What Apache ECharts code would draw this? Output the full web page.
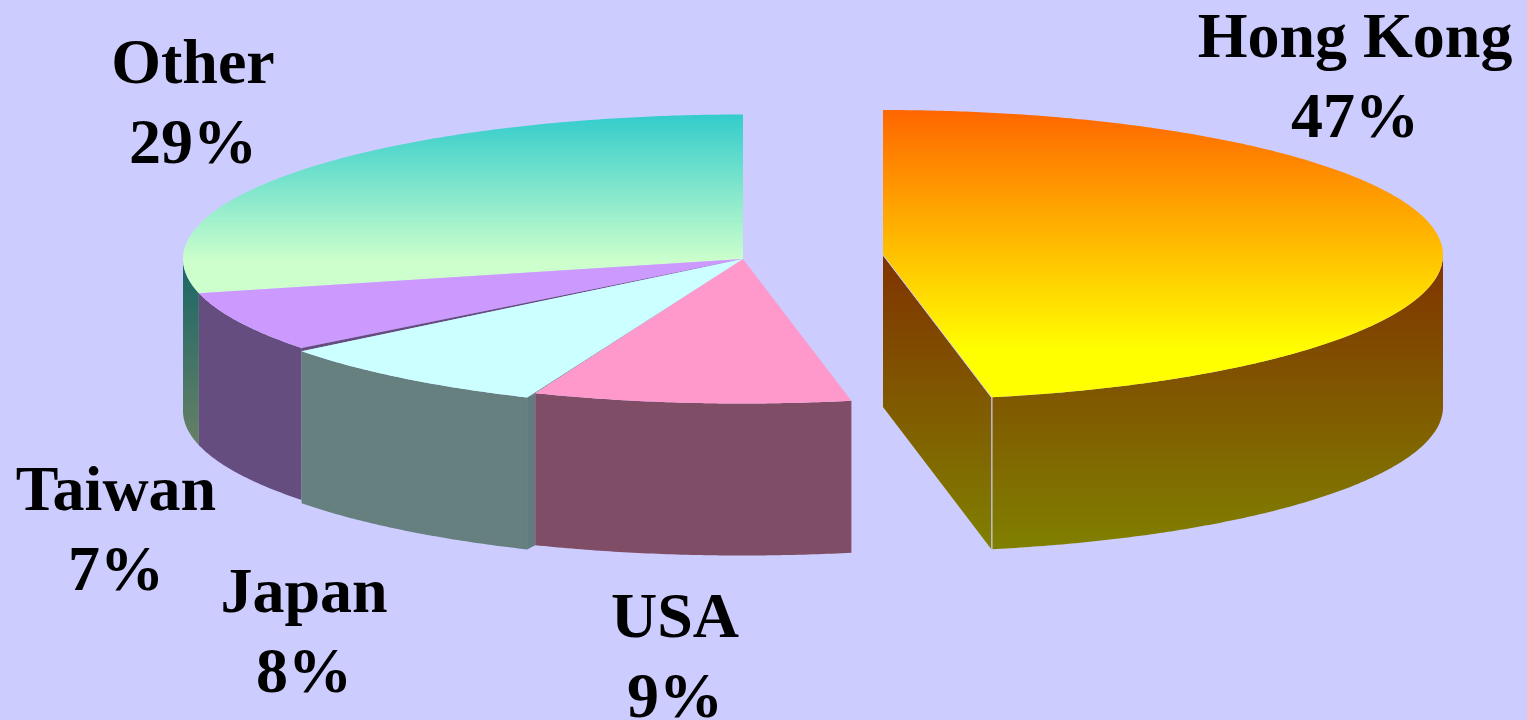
<!DOCTYPE html>
<html>
<head>
<meta charset="utf-8">
<style>html,body{margin:0;padding:0;background:#CCCCFF}#chart{width:1527px;height:720px}</style>
<script src="https://cdn.jsdelivr.net/npm/echarts@6/dist/echarts.min.js"></script>
</head>
<body>
<div id="chart"></div>
<script>
// Data
const categories = ['Hong Kong', 'USA', 'Japan', 'Taiwan', 'Other'];
const shares = [46.9, 9.15, 8.4, 6.75, 28.8];

// Styles (top gradient start/end per slice)
const topFrom = ['#FF6600', '#FF99CC', '#CCFFFF', '#CC99FF', '#33CCCC'];
const topTo   = ['#FFFF00', '#FF99CC', '#CCFFFF', '#CC99FF', '#CCFFCC'];
const topEnd  = [0.84, 1, 1, 1, 0.82];
const wallFrom = ['#803300', '#804D66', '#668080', '#664D80', '#1A6666'];
const wallTo   = ['#808000', '#804D66', '#668080', '#664D80', '#668066'];

// Layout
const BG = '#CCCCFF';
const RX = 560, RY = 144.5, DEPTH = 152;
const pieCentre = [743, 259];
const explode = [[140, -4], [0, 0], [0, 0], [0, 0], [0, 0]];
const rimDrop = [0.5, 0, 5.5, 0, 0];
const startTrim = [0, 0, 0.9, 0, 0];
const labelCentre = [[1355, 80], [675, 660], [304, 635], [116, 533], [193, 106]];

const total = shares.reduce((a, b) => a + b, 0);
const startAngle = [];
shares.reduce((acc, v, i) => { startAngle[i] = acc; return acc + v / total * 360; }, 0);

function rim(cx, cy, deg, drop) {
  const r = deg * Math.PI / 180;
  return [cx + RX * Math.sin(r), cy - (RY + (drop || 0)) * Math.cos(r) ];
}
function arc(cx, cy, a0, a1, drop) {
  const pts = [];
  const n = Math.max(2, Math.ceil(Math.abs(a1 - a0) / 0.5));
  for (let k = 0; k <= n; k++) pts.push(rim(cx, cy, a0 + (a1 - a0) * k / n, drop));
  return pts;
}
const down = p => [p[0], p[1] + DEPTH];
const vGrad = (a, b, end) => ({
  type: 'linear', x: 0, y: 0, x2: 0, y2: 1,
  colorStops: [{ offset: 0, color: a }, { offset: end === undefined ? 1 : end, color: b }, { offset: 1, color: b }]
});
const poly = (points, fill, z2) => ({
  type: 'polygon', z2, shape: { points },
  style: { fill, stroke: null, lineWidth: 0 }
});

function renderItem(params, api) {
  const i = params.dataIndex;
  const v = api.value(0);
  const a0 = startAngle[i], a1 = a0 + v / total * 360;
  const cx = pieCentre[0] + explode[i][0], cy = pieCentre[1] + explode[i][1];
  const drop = rimDrop[i], as = a0 + startTrim[i];
  const z = (categories.length - i) * 10;
  const kids = [];
  const c = [cx, cy];

  // outer wall: only the front half of the rim faces the viewer
  const w0 = Math.max(as, 90), w1 = Math.min(a1, 270);
  if (w1 > w0) {
    const t = arc(cx, cy, w0, w1, drop);
    kids.push(poly(t.concat(t.map(down).reverse()), vGrad(wallFrom[i], wallTo[i]), z));
  }
  // cut wall at the end of the big exploded slice
  if (explode[i][0] !== 0) {
    const p = rim(cx, cy, a1, drop);
    kids.push(poly([c, p, down(p), down(c)], vGrad(wallFrom[i], wallTo[i]), z));
    kids.push({ type: 'line', z2: z + 3, shape: { x1: p[0] + 0.5, y1: p[1], x2: p[0] + 0.5, y2: p[1] + DEPTH }, style: { stroke: BG, lineWidth: 1.2 } });
    kids.push({ type: 'line', z2: z + 3, shape: { x1: cx, y1: cy, x2: p[0], y2: p[1] }, style: { stroke: BG, lineWidth: 1 } });
  }
  // slit walls where a slightly lowered slice meets its neighbours
  if (rimDrop[i] > 1) {
    const pa = rim(cx, cy, a0), pb = rim(cx, cy, as, drop);
    kids.push(poly([pa, pb, down(pb), down(pa)], '#607C80', z));
    kids.push(poly([c, pa, pb], wallFrom[i], z + 1));
    const qa = rim(cx, cy, a1), qb = rim(cx, cy, a1, drop);
    kids.push(poly([c, qa, qb], wallFrom[i + 1], z + 1));
    kids.push(poly([qa, qb, down(qb), down(qa)], wallFrom[i], z));
  }
  // top surface
  kids.push(poly([c].concat(arc(cx, cy, as, a1, drop)), vGrad(topFrom[i], topTo[i], topEnd[i]), z + 2));
  // label
  kids.push({
    type: 'text', z2: 200,
    style: {
      x: labelCentre[i][0], y: labelCentre[i][1],
      text: api.value(1) + '\n' + Math.round(v) + '%',
      fill: '#000', align: 'center', verticalAlign: 'middle',
      font: 'bold 64px "Liberation Serif"', lineHeight: 80
    }
  });
  return { type: 'group', children: kids };
}

const chart = echarts.init(document.getElementById('chart'), null, { renderer: 'canvas' });
chart.setOption({
  animation: false,
  backgroundColor: BG,
  series: [{
    type: 'custom',
    coordinateSystem: 'none',
    silent: true,
    renderItem,
    dimensions: ['share', 'name'],
    data: categories.map((n, i) => [shares[i], n])
  }]
});
</script>
</body>
</html>
